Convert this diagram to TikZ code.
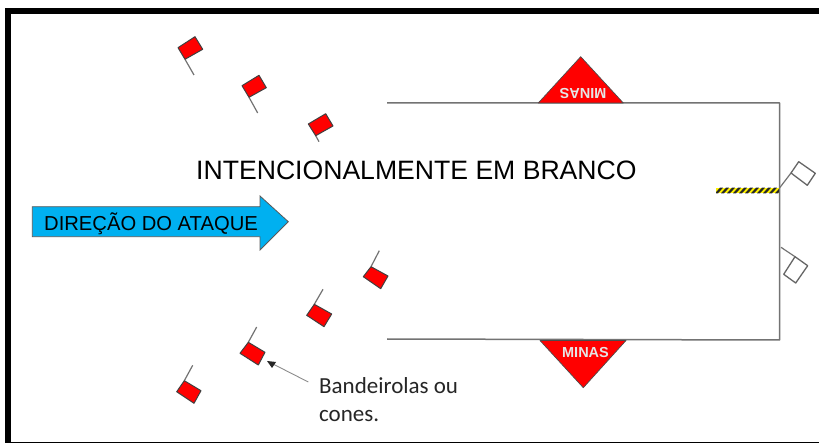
\documentclass[tikz,border=0pt]{standalone}
\usepackage{fontspec}
\setmainfont{Liberation Sans}
\newfontfamily\carl{Carlito}
\definecolor{skyblue}{RGB}{0,176,240}
\tikzset{
  pole/.style={draw=black!55,line width=1.2pt},
  redflag/.style={draw=black!75,fill=red,line width=1pt,line join=round},
  whiteflag/.style={draw=black!60,fill=white,line width=1.3pt,line join=round},
  wall/.style={draw=black!55,line width=1.5pt,line join=round},
  mine/.style={fill=red,draw=black!70,line width=0.7pt,line join=round},
  minatext/.style={text=black!10,font=\bfseries\fontsize{14.5}{14.5}\selectfont,inner sep=0pt},
}
\begin{document}
\begin{tikzpicture}[x=1pt,y=-1pt]
\useasboundingbox (0,0) rectangle (819,443);
\fill[white] (0,0) rectangle (819,443);
% frame
\fill[black] (5,8) rectangle (819,14.5);
\fill[black] (5,8) rectangle (11,443);
\fill[black] (5,441.5) rectangle (819,443);
% walls
\draw[wall] (387,103) -- (779.5,103) -- (779.5,340) -- (387,339);
% mines
\draw[mine] (580.7,56.7) -- (623.3,103) -- (538.3,103) -- cycle;
\draw[mine] (583.3,387.7) -- (626,340.5) -- (540,340.5) -- cycle;
\node[minatext,rotate=180,anchor=base] (m1) at (583,89) {MINAS};
\node[minatext,anchor=base] (m2) at (585.5,358) {MINAS};
% red flags, upper
\draw[pole] (185,59.3) -- (194,75);
\draw[redflag] (178,47.7) -- (195,36.7) -- (202.7,49.3) -- (185,59.3) -- cycle;
\draw[pole] (249,97.3) -- (257.7,113);
\draw[redflag] (242,85.7) -- (259,75.3) -- (266.3,87.7) -- (249,97.3) -- cycle;
\draw[pole] (315.7,135.7) -- (319,141.7);
\draw[redflag] (308.3,124) -- (325.7,113.7) -- (333,126) -- (315.7,135.7) -- cycle;
% red flags, lower
\draw[pole] (371,266.7) -- (379.3,250.7);
\draw[redflag] (363.3,276.7) -- (371,266.7) -- (388,276) -- (380.7,288.7) -- cycle;
\draw[pole] (314.3,304.3) -- (323,289.3);
\draw[redflag] (306.7,315.3) -- (314.3,304.3) -- (331.7,314) -- (324,326.7) -- cycle;
\draw[pole] (248.3,342.3) -- (256.7,327);
\draw[redflag] (240,353.3) -- (248.3,342.3) -- (265,352.3) -- (258.3,365) -- cycle;
\draw[pole] (184.3,380.7) -- (192.7,365.3);
\draw[redflag] (176.7,391.7) -- (184.3,380.7) -- (201,390.7) -- (194,403.3) -- cycle;
% white flags
\draw[pole] (779.3,188.3) -- (791,173);
\draw[whiteflag] (791,173) -- (798.7,161.7) -- (815.3,173.3) -- (807.3,185.3) -- cycle;
\draw[pole] (781,247.3) -- (795,256.7);
\draw[whiteflag] (795,256.7) -- (807.7,265.7) -- (795.7,283) -- (783.7,274.3) -- cycle;
% barrier
\begin{scope}
\clip (716,187.7) rectangle (778.8,193.3);
\fill[yellow] (716,187.7) rectangle (779,193.3);
\foreach \i in {0,...,10}
  \fill[black!85] (715+6*\i,193.3) -- (718+6*\i,193.3) -- (723+6*\i,187.7) -- (720+6*\i,187.7) -- cycle;
\end{scope}
% attack arrow
\draw[fill=skyblue,draw=black!65,line width=0.8pt,line join=miter]
  (32.3,206.7) -- (260,206.7) -- (260,196) -- (288.3,221.7) -- (260,250) -- (260,236.7) -- (32.3,236.7) -- cycle;
\node[anchor=base west,inner sep=0pt,font=\fontsize{20.2}{21}\selectfont] (dir) at (44,230.7) {DIREÇÃO DO ATAQUE};
% title
\node[anchor=base west,inner sep=0pt,font=\fontsize{26.6}{27}\selectfont] (blank) at (196,180) {INTENCIONALMENTE EM BRANCO};
% callout
\node[anchor=base west,inner sep=0pt,font=\carl\fontsize{23}{23}\selectfont,text=black!85] (lab1) at (319,393) {Bandeirolas ou};
\node[anchor=base west,inner sep=0pt,font=\carl\fontsize{23}{23}\selectfont,text=black!85] (lab2) at (319,421) {cones.};
\coordinate (ctail) at (308.3,382);
\coordinate (chead) at (267,361);
\draw[draw=black!45,line width=0.9pt] (ctail) -- (272,363.5);
\fill[black!85] (chead) -- (276,362) -- (272,368) -- cycle;
\end{tikzpicture}
\end{document}
